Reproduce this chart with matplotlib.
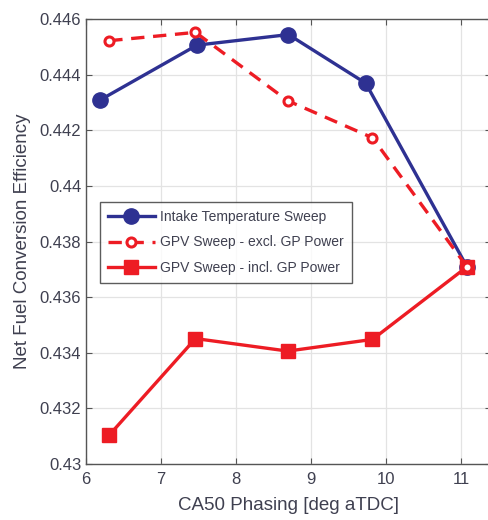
import matplotlib
matplotlib.use("Agg")
import matplotlib.pyplot as plt

plt.rcParams['font.family'] = ['Liberation Sans', 'DejaVu Sans']

# CA50 phasing [deg aTDC]
ca50_intake = [6.19, 7.48, 8.70, 9.73, 11.08]
eff_intake = [0.44309, 0.44506, 0.44544, 0.44369, 0.43709]

ca50_gpv = [6.31, 7.46, 8.69, 9.82, 11.08]
eff_gpv_excl = [0.44522, 0.44552, 0.44306, 0.44173, 0.43709]
eff_gpv_incl = [0.43104, 0.43451, 0.43406, 0.43448, 0.43709]

labels = ["Intake Temperature Sweep",
          "GPV Sweep - excl. GP Power",
          "GPV Sweep - incl. GP Power"]

xticks = [6, 7, 8, 9, 10, 11]
yticks = [0.43, 0.432, 0.434, 0.436, 0.438, 0.44, 0.442, 0.444, 0.446]
yticklabels = ["0.43", "0.432", "0.434", "0.436", "0.438", "0.44", "0.442", "0.444", "0.446"]

blue = "#2E3192"
red = "#ED1C24"
txt = "#3f4050"

fig = plt.figure(figsize=(4.88, 5.2), dpi=100)
ax = fig.add_axes([86/488, 1-464/520, 405/488, 445/520])

ax.plot(ca50_intake, eff_intake, '-o', color=blue, lw=2.4, ms=11, label=labels[0], zorder=3)
ax.plot(ca50_gpv, eff_gpv_excl, '--o', color=red, lw=2.4, ms=6.5, mfc='white', mew=2.2,
        dashes=(4, 2.6), label=labels[1], zorder=4)
ax.plot(ca50_gpv, eff_gpv_incl, '-s', color=red, lw=2.4, ms=9.5, label=labels[2], zorder=3)

ax.set_xlim(6, 11.4)
ax.set_ylim(0.43, 0.446)
ax.set_xticks(xticks)
ax.set_yticks(yticks)
ax.set_yticklabels(yticklabels)
ax.tick_params(direction='in', top=True, right=True, labelsize=12, colors='#555555',
               labelcolor=txt, length=4)
ax.tick_params(axis='x', pad=6)
ax.grid(True, color='#e3e3e3', lw=0.9)
ax.set_axisbelow(True)
for s in ax.spines.values():
    s.set_color('#555555')
    s.set_linewidth(1.0)

ax.set_xlabel("CA50 Phasing [deg aTDC]", fontsize=13.5, color=txt, labelpad=7)
ax.set_ylabel("Net Fuel Conversion Efficiency", fontsize=13.5, color=txt, labelpad=6)

leg = ax.legend(loc='upper left', bbox_to_anchor=((100-86)/405, (464-202)/445),
                borderaxespad=0, fontsize=10, frameon=True, fancybox=False,
                handlelength=3.4, borderpad=0.55, labelspacing=0.85, handletextpad=0.4)
leg.get_frame().set_edgecolor('#333333')
leg.get_frame().set_linewidth(1.0)
for t in leg.get_texts():
    t.set_color(txt)

fig.savefig("out.png", dpi=100)
